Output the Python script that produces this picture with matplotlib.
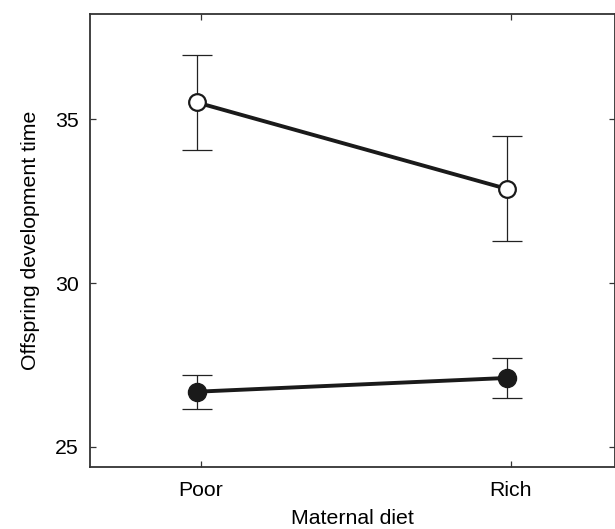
import numpy as np
import matplotlib.pyplot as plt

plt.rcParams['font.family'] = ['Liberation Sans', 'DejaVu Sans']

# data
diets = ["Poor", "Rich"]
open_mean = [35.52, 32.88]
open_err = [1.45, 1.60]
filled_mean = [26.68, 27.10]
filled_err = [0.52, 0.60]

x = np.arange(len(diets))

fig = plt.figure(figsize=(6.15, 5.29), dpi=100)
ax = fig.add_axes([0.1459, 0.1166, 0.8541, 0.8575])

ax.errorbar(x, open_mean, yerr=open_err, fmt='none', ecolor='#222222',
            elinewidth=0.9, capsize=11, capthick=0.9, zorder=1)
ax.errorbar(x, filled_mean, yerr=filled_err, fmt='none', ecolor='#222222',
            elinewidth=0.9, capsize=11, capthick=0.9, zorder=1)
ax.plot(x, open_mean, '-o', color='#1a1a1a', lw=2.8, ms=12,
        mfc='white', mec='#1a1a1a', mew=1.6, zorder=3)
ax.plot(x, filled_mean, '-o', color='#1a1a1a', lw=2.8, ms=13,
        mfc='#1a1a1a', mec='#1a1a1a', zorder=3)

ax.set_xlim(-0.345, 1.35)
ax.set_ylim(24.37, 38.23)
# tick marks sit a few pixels right of the points in the original
ax.set_xticks(x + 0.014)
ax.set_xticklabels(diets)
ax.set_yticks([25, 30, 35])
ax.tick_params(direction='in', length=4, width=0.9, top=True, right=True,
               labelsize=15.3, colors='#333333', labelcolor='black')
ax.tick_params(axis='x', pad=9.5)
ax.tick_params(axis='y', pad=8)
for s in ax.spines.values():
    s.set_linewidth(1.3)
    s.set_color('#333333')

ax.set_xlabel("Maternal diet", fontsize=15.3, labelpad=6.5)
ax.set_ylabel("Offspring development time", fontsize=15.3, labelpad=11)

fig.savefig("out.png", dpi=100)
